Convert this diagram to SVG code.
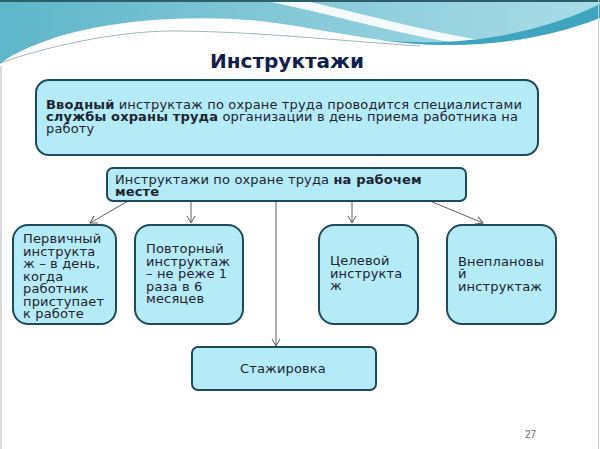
<svg xmlns="http://www.w3.org/2000/svg" width="600" height="449" viewBox="0 0 600 449">
<style>
.box{fill:#b5ebf7;stroke:#1e4a5a;stroke-width:2}
.t{font-family:"DejaVu Sans",Verdana,sans-serif;font-size:13px;fill:#1c2430;letter-spacing:0.15px}
.b{font-weight:bold}
.c{fill:none;stroke:#5a5f66;stroke-width:1}
</style>
<defs>
<linearGradient id="g1" x1="0" y1="0" x2="1" y2="0">
<stop offset="0" stop-color="#5db6c9"/>
<stop offset="0.5" stop-color="#86c9d8"/>
<stop offset="1" stop-color="#a9dde7"/>
</linearGradient>
<marker id="ar" markerWidth="10" markerHeight="10" refX="8" refY="5" orient="auto" markerUnits="userSpaceOnUse">
<path d="M1,1 L8,5 L1,9" fill="none" stroke="#5a5f66" stroke-width="1"/>
</marker>
</defs>
<rect x="0" y="0" width="600" height="449" fill="#ffffff"/>
<g id="header">
<path d="M0,0 H600 V12 C560,34 500,46 440,45 C380,44 320,28 260,21 C200,15 120,18 60,36 C30,46 12,54 0,64 Z" fill="url(#g1)"/>
<path d="M262,0 L300,0 C350,10 410,28 480,40 L450,42 C390,32 330,14 262,0 Z" fill="#ffffff" opacity="0.9"/>
<path d="M380,40 C450,47 530,38 600,4 L600,18 C540,42 460,52 380,40 Z" fill="#3ea4bf"/>
<path d="M0,63 C60,42 130,30 180,31 C260,32 330,40 420,46" fill="none" stroke="#8aa0aa" stroke-width="0.8"/>
<rect x="0" y="0" width="600" height="2" fill="#2b5d6b"/>
<line x1="1" y1="66" x2="1" y2="449" stroke="#b0b8bc" stroke-width="1"/>
<line x1="598.5" y1="0" x2="598.5" y2="449" stroke="#c8cfd2" stroke-width="1"/>
</g>
<text x="287" y="68" text-anchor="middle" font-family="'DejaVu Sans',Verdana,sans-serif" font-size="20" font-weight="bold" fill="#10204a">Инструктажи</text>
<g id="connectors">
<path class="c" d="M128,201 L90,223" marker-end="url(#ar)"/>
<path class="c" d="M191,201 V223" marker-end="url(#ar)"/>
<path class="c" d="M352,201 V223" marker-end="url(#ar)"/>
<path class="c" d="M430,201 L483,223" marker-end="url(#ar)"/>
<path class="c" d="M276,201 V346" marker-end="url(#ar)"/>
</g>
<g id="n1">
<rect class="box" x="36" y="80" width="502" height="75" rx="13"/>
<text class="t" x="46" y="109"><tspan class="b">Вводный</tspan> инструктаж по охране труда проводится специалистами</text>
<text class="t" x="46" y="121"><tspan class="b">службы охраны труда</tspan> организации в день приема работника на</text>
<text class="t" x="46" y="133">работу</text>
</g>
<g id="n2">
<rect class="box" x="107" y="168" width="359" height="33" rx="6"/>
<text class="t" x="115" y="184">Инструктажи по охране труда <tspan class="b">на рабочем</tspan></text>
<text class="t b" x="115" y="196">месте</text>
</g>
<g id="n3">
<rect class="box" x="13" y="225" width="103" height="99" rx="15"/>
<text class="t" x="23" y="243">Первичный</text>
<text class="t" x="23" y="256">инструкта</text>
<text class="t" x="23" y="268">ж – в день,</text>
<text class="t" x="23" y="281">когда</text>
<text class="t" x="23" y="293">работник</text>
<text class="t" x="23" y="306">приступает</text>
<text class="t" x="23" y="318">к работе</text>
</g>
<g id="n4">
<rect class="box" x="135" y="225" width="108" height="99" rx="15"/>
<text class="t" x="146" y="253">Повторный</text>
<text class="t" x="146" y="266">инструктаж</text>
<text class="t" x="146" y="278">– не реже 1</text>
<text class="t" x="146" y="291">раза в 6</text>
<text class="t" x="146" y="303">месяцев</text>
</g>
<g id="n5">
<rect class="box" x="319" y="225" width="99" height="99" rx="15"/>
<text class="t" x="330" y="265">Целевой</text>
<text class="t" x="330" y="278">инструкта</text>
<text class="t" x="330" y="290">ж</text>
</g>
<g id="n6">
<rect class="box" x="447" y="225" width="109" height="99" rx="15"/>
<text class="t" x="458" y="266">Внеплановы</text>
<text class="t" x="458" y="278">й</text>
<text class="t" x="458" y="291">инструктаж</text>
</g>
<g id="n7">
<rect class="box" x="192" y="347" width="184" height="43" rx="6"/>
<text class="t" x="283" y="373" text-anchor="middle">Стажировка</text>
</g>
<text x="525" y="438" font-family="'Liberation Sans',Arial,sans-serif" font-size="10" fill="#666">27</text>
</svg>
